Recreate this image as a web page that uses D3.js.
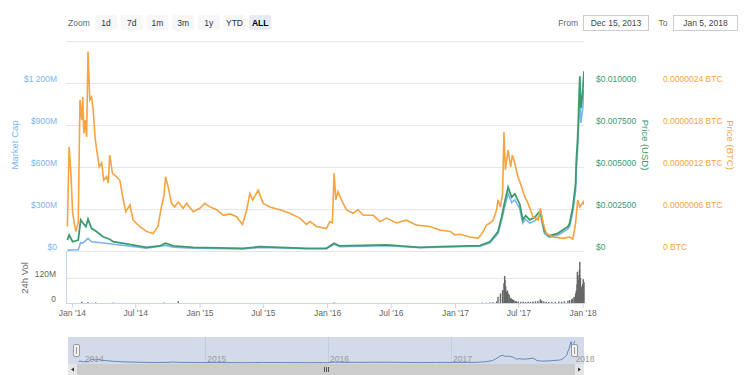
<!DOCTYPE html>
<html>
<head>
<meta charset="utf-8">
<script src="https://cdn.jsdelivr.net/npm/d3@7.9.0/dist/d3.min.js"></script>
<style>
  body { margin: 0; background: #fff; }
  svg { font-family: "Liberation Sans", Arial, sans-serif; }
</style>
</head>
<body>
<svg id="chart" width="750" height="375"></svg>
<script>
// Price in BTC (satoshi)
const btcDates = ["2013-12-19","2013-12-24","2013-12-29","2014-01-03","2014-01-12","2014-01-19","2014-01-24","2014-01-29","2014-02-01","2014-02-04","2014-02-08","2014-02-12","2014-02-16","2014-02-21","2014-02-26","2014-03-03","2014-03-08","2014-03-14","2014-03-20","2014-03-27","2014-04-02","2014-04-10","2014-04-15","2014-04-19","2014-04-27","2014-05-09","2014-05-18","2014-05-28","2014-06-04","2014-06-16","2014-06-25","2014-07-14","2014-08-02","2014-08-21","2014-09-04","2014-09-14","2014-09-21","2014-09-26","2014-10-03","2014-10-13","2014-10-22","2014-11-01","2014-11-15","2014-11-25","2014-12-14","2015-01-02","2015-01-16","2015-01-31","2015-02-19","2015-03-10","2015-03-29","2015-04-17","2015-05-04","2015-05-16","2015-05-25","2015-06-02","2015-06-18","2015-07-02","2015-07-21","2015-08-19","2015-09-16","2015-10-15","2015-11-03","2015-11-13","2015-12-02","2015-12-30","2016-01-09","2016-01-16","2016-01-21","2016-01-26","2016-02-01","2016-02-11","2016-02-25","2016-03-15","2016-03-30","2016-04-13","2016-05-12","2016-05-31","2016-06-19","2016-07-17","2016-08-15","2016-09-13","2016-10-21","2016-11-19","2016-12-18","2017-01-01","2017-01-15","2017-02-13","2017-03-08","2017-03-23","2017-04-01","2017-04-11","2017-04-20","2017-04-30","2017-05-04","2017-05-11","2017-05-17","2017-05-21","2017-05-25","2017-06-02","2017-06-09","2017-06-14","2017-06-21","2017-06-30","2017-07-10","2017-07-19","2017-07-29","2017-08-12","2017-08-27","2017-09-02","2017-09-10","2017-09-19","2017-10-08","2017-11-06","2017-11-25","2017-12-04","2017-12-12","2017-12-18","2017-12-24","2018-01-03","2018-01-05"];
const btcPriceSat = [35,149,111,54,28,40,216,187,220,168,187,163,285,216,220,201,163,140,120,126,101,106,97,137,111,106,101,73,56,66,44,35,28,25,35,63,78,106,92,68,63,70,61,68,56,61,68,63,59,51,53,49,38,59,82,73,87,68,63,59,54,47,38,42,35,32,42,40,111,73,85,73,59,54,59,51,51,42,47,40,44,37,35,30,28,23,24,20,18,28,37,40,44,59,73,63,82,170,116,144,120,137,125,106,92,78,68,49,44,61,40,25,20,18,20,17,40,73,63,70,66];

// Price in USD (green line)
const usdDates = ["2013-12-19","2013-12-24","2014-01-03","2014-01-19","2014-01-26","2014-02-02","2014-02-10","2014-02-16","2014-02-26","2014-03-13","2014-03-31","2014-04-19","2014-04-29","2014-06-06","2014-08-02","2014-09-09","2014-09-26","2014-10-18","2014-12-14","2015-05-06","2015-06-23","2015-11-03","2015-12-30","2016-01-21","2016-02-06","2016-06-19","2016-09-23","2016-11-19","2017-03-13","2017-04-11","2017-05-04","2017-05-14","2017-05-24","2017-06-02","2017-06-12","2017-06-21","2017-07-05","2017-07-14","2017-07-22","2017-08-03","2017-08-17","2017-09-02","2017-09-14","2017-09-28","2017-10-22","2017-11-20","2017-11-25","2017-12-04","2017-12-12","2017-12-14","2017-12-17","2017-12-19","2017-12-24","2017-12-27","2018-01-01","2018-01-05"];
const usdPrice = [0.00065,0.00095,0.00055,0.00065,0.00185,0.00165,0.00145,0.0019,0.00135,0.00115,0.00085,0.0007,0.00055,0.00042,0.00022,0.0003,0.00046,0.0003,0.00022,0.00016,0.00026,0.00016,0.00016,0.00046,0.0003,0.00036,0.00022,0.00026,0.00032,0.00055,0.00115,0.002,0.003,0.0038,0.0032,0.0034,0.0028,0.00185,0.0021,0.00185,0.002,0.0024,0.00115,0.0009,0.00105,0.00145,0.00165,0.0026,0.004,0.0054,0.0064,0.0073,0.0104,0.0085,0.0094,0.0107];

// Market cap in $M (blue line)
const capDates = ["2013-12-19","2014-01-19","2014-01-26","2014-02-02","2014-02-16","2014-02-26","2014-03-13","2014-04-19","2014-06-06","2014-08-02","2014-09-26","2014-10-18","2014-12-14","2015-05-06","2015-06-23","2015-11-03","2015-12-30","2016-01-21","2016-02-06","2016-06-19","2016-09-23","2016-11-19","2017-03-13","2017-04-11","2017-05-04","2017-05-14","2017-05-24","2017-06-02","2017-06-12","2017-06-21","2017-07-05","2017-07-14","2017-07-22","2017-08-03","2017-08-17","2017-09-02","2017-09-14","2017-09-28","2017-10-22","2017-11-20","2017-11-25","2017-12-04","2017-12-12","2017-12-14","2017-12-17","2017-12-19","2017-12-24","2017-12-27","2018-01-01","2018-01-05"];
const marketCap = [6,9,60,58,90,66,62,52,38,20,40,27,20,15,26,16,16,48,31,38,23,28,34,59,124,216,325,410,345,366,302,200,227,200,216,259,124,97,113,157,178,281,432,583,691,788,1120,915,1010,1150];

// 24h volume in $M (grey columns)
const volDates = ["2014-01-29","2014-02-16","2014-03-10","2014-04-29","2014-09-21","2014-11-01","2016-01-21","2017-03-20","2017-04-01","2017-04-11","2017-04-20","2017-04-30","2017-05-04","2017-05-11","2017-05-17","2017-05-21","2017-05-23","2017-05-24","2017-05-26","2017-05-28","2017-05-31","2017-06-02","2017-06-05","2017-06-08","2017-06-11","2017-06-14","2017-06-18","2017-06-22","2017-06-26","2017-07-01","2017-07-08","2017-07-15","2017-07-22","2017-07-29","2017-08-05","2017-08-12","2017-08-19","2017-08-26","2017-09-02","2017-09-06","2017-09-12","2017-09-19","2017-09-26","2017-10-05","2017-10-15","2017-10-25","2017-11-02","2017-11-10","2017-11-20","2017-11-25","2017-12-01","2017-12-04","2017-12-08","2017-12-12","2017-12-14","2017-12-16","2017-12-17","2017-12-19","2017-12-21","2017-12-23","2017-12-24","2017-12-26","2017-12-28","2017-12-30","2018-01-01","2018-01-03","2018-01-05"];
const volume = [6,4,3,2,2,9,3,2,2,3,4,8,30,46,62,95,130,110,80,54,60,46,40,25,22,18,15,10,8,7,6,7,5,6,5,7,8,10,18,12,8,6,5,6,5,7,6,8,11,14,18,22,30,46,60,90,150,134,110,160,198,120,78,70,90,114,100];

// tick labels
const capTicks = [0, 300, 600, 900, 1200];
const gridTicks = [0, 300, 600, 900, 1200, 1500];
const usdTicks = [0, 0.0025, 0.005, 0.0075, 0.01];
const btcTicks = [0, 60, 120, 180, 240];
const volTicks = [0, 120];
const xTickDates = ["2014-01-01","2014-07-01","2015-01-01","2015-07-01","2016-01-01","2016-07-01","2017-01-01","2017-07-01","2018-01-01"];
const navYears = ["2014-01-01","2015-01-01","2016-01-01","2017-01-01","2018-01-01"];
const zoomButtons = ["1d", "7d", "1m", "3m", "1y", "YTD", "ALL"];

const parse = d3.timeParse('%Y-%m-%d');
const svg = d3.select('#chart');

const colCap = '#7cb5ec', colUsd = '#3c9b6e', colBtc = '#f7a33f';
const left = 66, right = 584;
const start = parse('2013-12-15'), end = parse('2018-01-05');

const x = d3.scaleTime().domain([start, end]).range([left, right]);
const yCap = d3.scaleLinear().domain([0, 1500]).range([251, 41]);
const yUsd = d3.scaleLinear().domain([0, 0.0125]).range([251, 41]);
const yBtc = d3.scaleLinear().domain([0, 300]).range([251, 41]);
const yVol = d3.scaleLinear().domain([0, 120]).range([303, 278]);

// ---- range selector ----
svg.append('text').attr('x', 68).attr('y', 25.5).attr('font-size', 8.5).attr('fill', '#666').text('Zoom');
zoomButtons.forEach((b, i) => {
  const bx = 95 + i * 25.7;
  const sel = b === 'ALL';
  svg.append('rect').attr('x', bx).attr('y', 15).attr('width', 22).attr('height', 15).attr('rx', 2)
    .attr('fill', sel ? '#e6ebf5' : '#f7f7f7');
  svg.append('text').attr('x', bx + 11).attr('y', 25.5).attr('text-anchor', 'middle')
    .attr('font-size', 8.5).attr('font-weight', sel ? 'bold' : 'normal')
    .attr('fill', sel ? '#000' : '#333').text(b);
});
svg.append('text').attr('x', 578).attr('y', 25.5).attr('text-anchor', 'end').attr('font-size', 8.5).attr('fill', '#666').text('From');
svg.append('rect').attr('x', 583.5).attr('y', 15.5).attr('width', 65).attr('height', 15).attr('fill', '#fff').attr('stroke', '#ccc');
svg.append('text').attr('x', 616).attr('y', 25.5).attr('text-anchor', 'middle').attr('font-size', 8.5).attr('fill', '#444').text('Dec 15, 2013');
svg.append('text').attr('x', 663).attr('y', 25.5).attr('text-anchor', 'middle').attr('font-size', 8.5).attr('fill', '#666').text('To');
svg.append('rect').attr('x', 673.5).attr('y', 15.5).attr('width', 64).attr('height', 15).attr('fill', '#fff').attr('stroke', '#ccc');
svg.append('text').attr('x', 705.5).attr('y', 25.5).attr('text-anchor', 'middle').attr('font-size', 8.5).attr('fill', '#444').text('Jan 5, 2018');

// ---- grid ----
svg.append('g').selectAll('line').data(gridTicks).join('line')
  .attr('x1', left).attr('x2', right)
  .attr('y1', d => Math.round(yCap(d)) + 0.5).attr('y2', d => Math.round(yCap(d)) + 0.5)
  .attr('stroke', '#e6e6e6');
svg.append('g').selectAll('line').data(volTicks).join('line')
  .attr('x1', left).attr('x2', right)
  .attr('y1', d => Math.round(yVol(d)) + 0.5).attr('y2', d => Math.round(yVol(d)) + 0.5)
  .attr('stroke', d => d === 0 ? '#ccd6eb' : '#e6e6e6');
svg.append('line').attr('x1', left + 0.5).attr('x2', left + 0.5).attr('y1', 251).attr('y2', 303).attr('stroke', '#ccd6eb');

// ---- axes ----
function styleAxis(g, color) {
  g.attr('font-family', null).attr('font-size', 8.5);
  g.select('.domain').remove();
  g.selectAll('text').attr('fill', color).attr('y', -4);
}
const fmtCap = d3.formatLocale({ decimal: '.', thousands: ' ', grouping: [3], currency: ['$', ''] }).format(',');
svg.append('g').attr('transform', 'translate(57,0)')
  .call(d3.axisLeft(yCap).tickValues(capTicks).tickSize(0).tickPadding(0)
    .tickFormat(v => v === 0 ? '$0' : '$' + fmtCap(v) + 'M'))
  .call(g => styleAxis(g, colCap));
svg.append('g').attr('transform', 'translate(596,0)')
  .call(d3.axisRight(yUsd).tickValues(usdTicks).tickSize(0).tickPadding(0)
    .tickFormat(v => v === 0 ? '$0' : '$' + v.toFixed(6)))
  .call(g => styleAxis(g, colUsd));
svg.append('g').attr('transform', 'translate(663,0)')
  .call(d3.axisRight(yBtc).tickValues(btcTicks).tickSize(0).tickPadding(0)
    .tickFormat(v => v === 0 ? '0 BTC' : (v * 1e-8).toFixed(7) + ' BTC'))
  .call(g => styleAxis(g, colBtc));
svg.append('g').attr('transform', 'translate(56,0)')
  .call(d3.axisLeft(yVol).tickValues(volTicks).tickSize(0).tickPadding(0)
    .tickFormat(v => v === 0 ? '0' : v + 'M'))
  .call(g => styleAxis(g, '#666'));

const xAxis = svg.append('g').attr('transform', 'translate(0,303)')
  .call(d3.axisBottom(x).tickValues(xTickDates.map(parse)).tickSize(5).tickSizeOuter(0)
    .tickFormat(d3.timeFormat("%b '%y")));
xAxis.attr('font-family', null).attr('font-size', 8.5);
xAxis.select('.domain').attr('stroke', '#ccd6eb');
xAxis.selectAll('.tick line').attr('stroke', '#ccd6eb');
xAxis.selectAll('text').attr('fill', '#666').attr('y', 7);

// axis titles
function vTitle(tx, ty, rot, txt, color) {
  svg.append('text').attr('transform', `translate(${tx},${ty}) rotate(${rot})`)
    .attr('text-anchor', 'middle').attr('font-size', 9.5).attr('fill', color).text(txt);
}
vTitle(18, 145, -90, 'Market Cap', colCap);
vTitle(28, 278, -90, '24h Vol', '#666');
vTitle(642, 145, 90, 'Price (USD)', colUsd);
vTitle(727, 145, 90, 'Price (BTC)', colBtc);

// ---- series ----
svg.append('clipPath').attr('id', 'main').append('rect').attr('x', left).attr('y', 36).attr('width', right - left).attr('height', 217);

const capData = capDates.map((d, i) => ({ date: parse(d), value: marketCap[i] }));
const usdData = usdDates.map((d, i) => ({ date: parse(d), value: usdPrice[i] }));
const btcData = btcDates.map((d, i) => ({ date: parse(d), value: btcPriceSat[i] }));
const volData = volDates.map((d, i) => ({ date: parse(d), value: volume[i] }));

const plot = svg.append('g').attr('clip-path', 'url(#main)');
plot.append('path').datum(capData).attr('fill', 'none').attr('stroke', colCap).attr('stroke-width', 1.6)
  .attr('d', d3.line().x(d => x(d.date)).y(d => yCap(d.value)));
plot.append('path').datum(usdData).attr('fill', 'none').attr('stroke', colUsd).attr('stroke-width', 1.8)
  .attr('d', d3.line().x(d => x(d.date)).y(d => yUsd(d.value)));
plot.append('path').datum(btcData).attr('fill', 'none').attr('stroke', colBtc).attr('stroke-width', 1.6)
  .attr('d', d3.line().x(d => x(d.date)).y(d => yBtc(d.value)));

svg.append('g').selectAll('rect').data(volData).join('rect')
  .attr('x', d => x(d.date) - 0.7).attr('width', 1.4)
  .attr('y', d => yVol(d.value)).attr('height', d => yVol(0) - yVol(d.value))
  .attr('fill', '#666');

// ---- navigator ----
const xNav = d3.scaleTime().domain([start, end]).range([77, 575]);
const yNav = d3.scaleLinear().domain([0, d3.max(usdPrice)]).range([363, 341]);
svg.append('rect').attr('x', 68).attr('y', 337).attr('width', right - 68).attr('height', 27).attr('fill', '#d3dbeb');
svg.append('g').selectAll('line').data(navYears.slice(1, 4)).join('line')
  .attr('x1', d => Math.round(xNav(parse(d))) + 0.5).attr('x2', d => Math.round(xNav(parse(d))) + 0.5)
  .attr('y1', 337).attr('y2', 364).attr('stroke', '#c3cce0');
svg.append('g').selectAll('text').data(navYears).join('text')
  .attr('x', d => xNav(parse(d)) + 2).attr('y', 361.5)
  .attr('font-size', 8.5).attr('fill', '#999').text(d => d.slice(0, 4));
svg.append('path').datum(usdData).attr('fill', 'none').attr('stroke', '#6685c2').attr('stroke-width', 1)
  .attr('d', d3.line().x(d => xNav(d.date)).y(d => yNav(d.value)));
[start, end].forEach(d => {
  const hx = Math.round(xNav(d));
  svg.append('rect').attr('x', hx - 3.5).attr('y', 344.5).attr('width', 6).attr('height', 12).attr('rx', 1.5)
    .attr('fill', '#f2f2f2').attr('stroke', '#999');
  svg.append('line').attr('x1', hx - 0.5).attr('x2', hx - 0.5).attr('y1', 347).attr('y2', 354).attr('stroke', '#999');
});

// scrollbar
svg.append('rect').attr('x', 68).attr('y', 364).attr('width', right - 68).attr('height', 11).attr('fill', '#f2f2f2');
svg.append('rect').attr('x', 77).attr('y', 364).attr('width', 498).attr('height', 11).attr('fill', '#cccccc');
svg.append('rect').attr('x', 68).attr('y', 364).attr('width', 9).attr('height', 11).attr('fill', '#e6e6e6');
svg.append('rect').attr('x', 575).attr('y', 364).attr('width', 9).attr('height', 11).attr('fill', '#e6e6e6');
svg.append('path').attr('d', 'M71,369.5 L74,367.5 L74,371.5 Z').attr('fill', '#333');
svg.append('path').attr('d', 'M581,369.5 L578,367.5 L578,371.5 Z').attr('fill', '#333');
[-2, 0, 2].forEach(o => {
  svg.append('line').attr('x1', 326.5 + o).attr('x2', 326.5 + o).attr('y1', 367).attr('y2', 372).attr('stroke', '#333').attr('stroke-width', 0.8);
});
</script>
</body>
</html>
